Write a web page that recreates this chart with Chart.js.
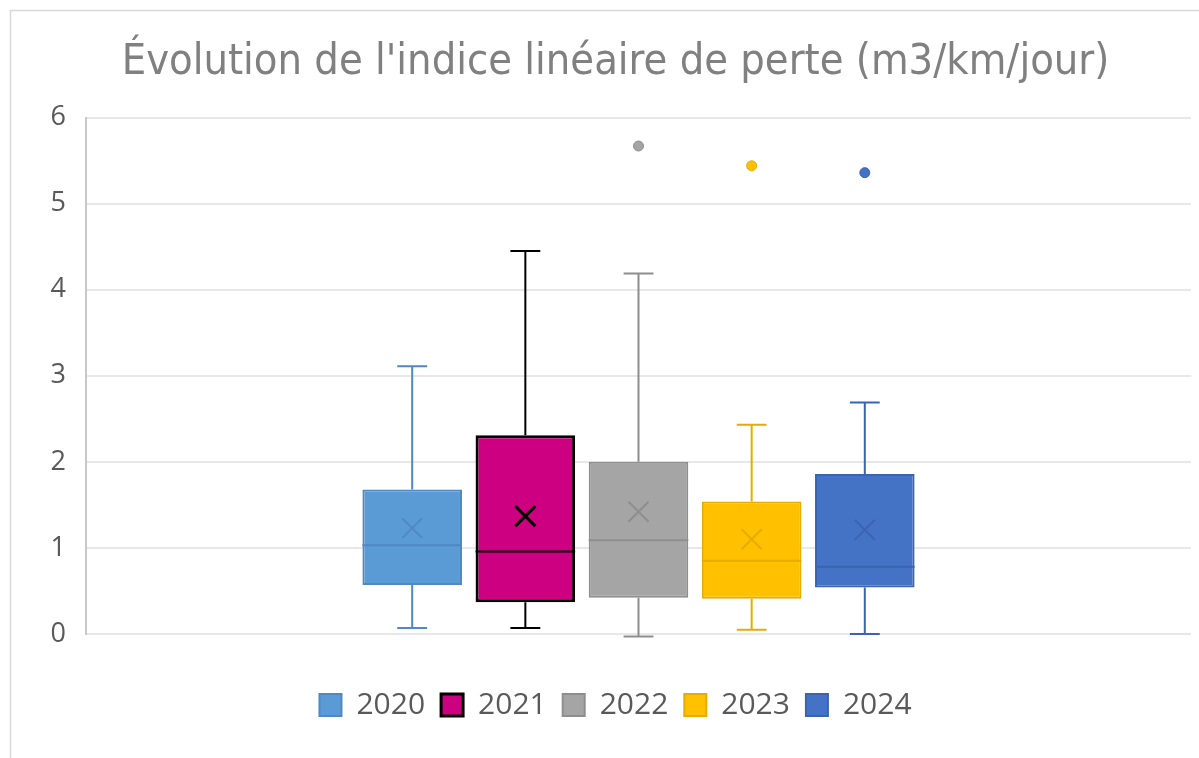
<!DOCTYPE html>
<html>
<head>
<meta charset="utf-8">
<script src="https://cdn.jsdelivr.net/npm/chart.js@4/dist/chart.umd.min.js"></script>
<style>
  html, body { margin: 0; padding: 0; background: #fff; }
  #wrap { width: 1199px; height: 758px; position: relative; }
</style>
</head>
<body>
<div id="wrap"><canvas id="boxChart"></canvas></div>
<script>
// Box plot statistics
const years = ['2020', '2021', '2022', '2023', '2024'];
const q1Values = [0.57, 0.37, 0.42, 0.41, 0.54];
const q3Values = [1.68, 2.31, 2.00, 1.54, 1.86];
const medianValues = [1.03, 0.96, 1.09, 0.85, 0.78];
const meanValues = [1.23, 1.37, 1.42, 1.10, 1.21];
const minValues = [0.07, 0.07, -0.03, 0.05, 0.00];
const maxValues = [3.11, 4.45, 4.19, 2.43, 2.69];
const outliers = [[], [], [5.67], [5.44], [5.36]];
const yTicks = [0, 1, 2, 3, 4, 5, 6];

const fillColors = ['#5B9BD5', '#CC0080', '#A5A5A5', '#FFC000', '#4472C4'];
const lineColors = ['#5088C2', '#000000', '#8E8E8E', '#E6AC00', '#3B64B0'];

// whiskers, median, mean cross and outliers drawn on top of the floating bars
const boxExtras = {
    id: 'boxExtras',
    afterDatasetsDraw(chart) {
        const ctx = chart.ctx;
        const y = chart.scales.y;
        chart.data.datasets.forEach((ds, i) => {
            const bar = chart.getDatasetMeta(i).data[0];
            if (!bar) return;
            const cx = bar.x;
            const half = bar.width / 2;
            const cap = bar.width * 0.15;
            ctx.save();
            ctx.strokeStyle = lineColors[i];
            ctx.lineWidth = 2;
            ctx.beginPath();
            // upper whisker
            ctx.moveTo(cx, y.getPixelForValue(q3Values[i]));
            ctx.lineTo(cx, y.getPixelForValue(maxValues[i]));
            ctx.moveTo(cx - cap, y.getPixelForValue(maxValues[i]));
            ctx.lineTo(cx + cap, y.getPixelForValue(maxValues[i]));
            // lower whisker
            ctx.moveTo(cx, y.getPixelForValue(q1Values[i]));
            ctx.lineTo(cx, y.getPixelForValue(minValues[i]));
            ctx.moveTo(cx - cap, y.getPixelForValue(minValues[i]));
            ctx.lineTo(cx + cap, y.getPixelForValue(minValues[i]));
            // median
            ctx.moveTo(cx - half, y.getPixelForValue(medianValues[i]));
            ctx.lineTo(cx + half, y.getPixelForValue(medianValues[i]));
            ctx.stroke();
            // mean marker
            const my = y.getPixelForValue(meanValues[i]);
            const m = 10;
            ctx.lineWidth = i === 1 ? 3 : 2;
            ctx.beginPath();
            ctx.moveTo(cx - m, my - m);
            ctx.lineTo(cx + m, my + m);
            ctx.moveTo(cx + m, my - m);
            ctx.lineTo(cx - m, my + m);
            ctx.stroke();
            // outliers
            outliers[i].forEach(v => {
                ctx.beginPath();
                ctx.fillStyle = fillColors[i];
                ctx.strokeStyle = lineColors[i];
                ctx.lineWidth = 1;
                ctx.arc(cx, y.getPixelForValue(v), 5, 0, Math.PI * 2);
                ctx.fill();
                ctx.stroke();
            });
            ctx.restore();
        });
    }
};

// white background and the outer frame
const frame = {
    id: 'frame',
    beforeDraw(chart) {
        const ctx = chart.ctx;
        ctx.save();
        ctx.fillStyle = '#ffffff';
        ctx.fillRect(0, 0, chart.width, chart.height);
        ctx.strokeStyle = '#d9d9d9';
        ctx.lineWidth = 1.5;
        ctx.beginPath();
        ctx.moveTo(10.5, chart.height);
        ctx.lineTo(10.5, 10.5);
        ctx.lineTo(chart.width, 10.5);
        ctx.stroke();
        ctx.restore();
    }
};

new Chart(document.getElementById('boxChart'), {
    type: 'bar',
    data: {
        labels: [''],
        datasets: years.map((yr, i) => ({
            label: yr,
            data: [[q1Values[i], q3Values[i]]],
            backgroundColor: fillColors[i],
            borderColor: lineColors[i],
            borderWidth: i === 1 ? 3 : 2,
            borderSkipped: false,
            barPercentage: 0.88,
            categoryPercentage: 0.512
        }))
    },
    options: {
        responsive: true,
        maintainAspectRatio: false,
        animation: false,
        layout: { padding: { left: 40, right: 8, top: 0, bottom: 28 } },
        plugins: {
            title: {
                display: true,
                text: "Évolution de l'indice linéaire de perte (m3/km/jour)",
                color: '#808080',
                font: { family: "'Liberation Sans Narrow', 'DejaVu Sans Condensed', sans-serif", size: 43, weight: 'normal' },
                padding: { top: 37, bottom: 29 }
            },
            legend: {
                position: 'bottom',
                labels: {
                    color: '#595959',
                    font: { family: 'Open Sans', size: 30 },
                    boxWidth: 22,
                    boxHeight: 22,
                    padding: 16
                }
            },
            tooltip: { enabled: false }
        },
        scales: {
            x: {
                grid: { display: false },
                border: { display: false },
                ticks: { display: false },
                afterFit: axis => { axis.height = 40; }
            },
            y: {
                min: 0,
                max: 6,
                afterBuildTicks: axis => { axis.ticks = yTicks.map(v => ({ value: v })); },
                afterFit: axis => { axis.width = 46; },
                ticks: {
                    color: '#595959',
                    font: { family: 'Open Sans', size: 27 },
                    padding: 20
                },
                grid: { color: '#e8e8e8', lineWidth: 2, drawTicks: false },
                border: { display: true, color: '#c8c8c8', width: 2 }
            }
        }
    },
    plugins: [frame, boxExtras]
});
</script>
</body>
</html>
